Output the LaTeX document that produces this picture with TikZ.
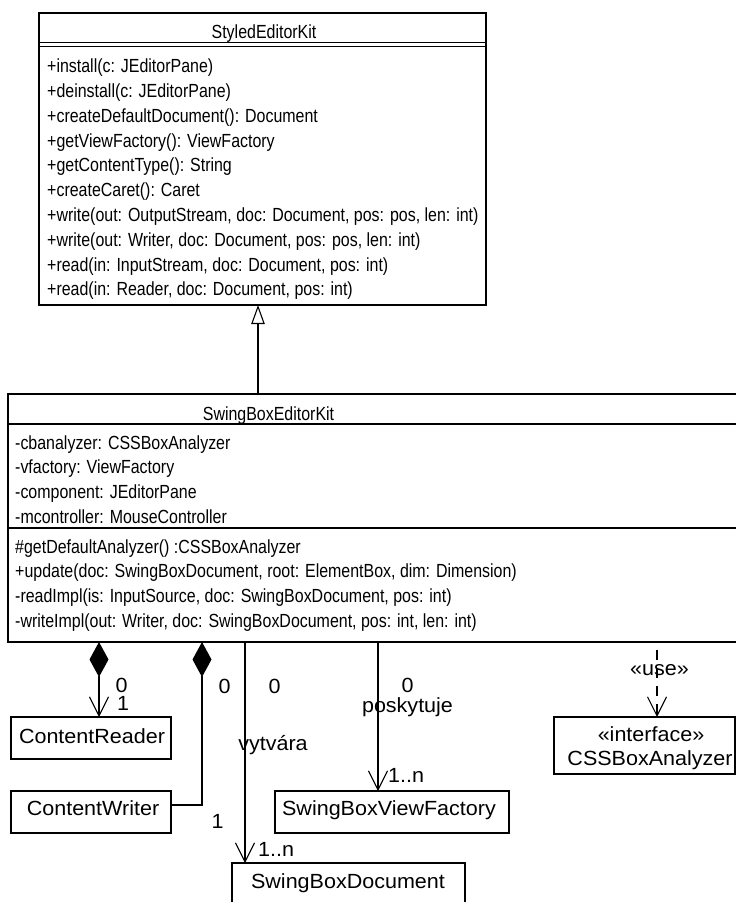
\documentclass[tikz,border=0pt]{standalone}
\usepackage{fontspec}
\setmainfont{Liberation Sans}
\newfontfamily\umlfont[FakeStretch=0.84]{Liberation Sans}
\newfontfamily\lblfont[FakeStretch=1.05]{Liberation Sans}
\usetikzlibrary{arrows.meta}
\tikzset{
  box/.style={draw, line width=1.1pt, inner sep=0pt, outer sep=0pt, anchor=north west},
  mtext/.style={font=\umlfont\fontsize{19}{22}\selectfont, inner sep=0pt, anchor=base west},
  ttext/.style={font=\umlfont\fontsize{19}{22}\selectfont, inner sep=0pt, anchor=base},
  ltext/.style={font=\lblfont\fontsize{20.5}{24}\selectfont, inner sep=0pt, anchor=base},
  lwtext/.style={font=\lblfont\fontsize{20.5}{24}\selectfont, inner sep=0pt, anchor=base west},
  conn/.style={line width=1.1pt},
  sepline/.style={line width=1.1pt},
  barb/.style={-{Straight Barb[length=19pt,width=19pt]}},
  compo/.style={{Diamond[length=35pt,width=19pt]}-{Straight Barb[length=19pt,width=19pt]}},
  compoplain/.style={{Diamond[length=35pt,width=19pt]}-},
  inherit/.style={-{Triangle[open,length=19pt,width=13.4pt]}},
  usedep/.style={dash pattern=on 10pt off 8pt, dash phase=-8pt, -{Straight Barb[length=19pt,width=19pt]}}
}
\begin{document}
\begin{tikzpicture}[x=1pt,y=-1pt]
\path[use as bounding box, clip] (0,0) rectangle (736,902);
\fill[white] (0,0) rectangle (736,902);

% StyledEditorKit
\node[box, minimum width=447pt, minimum height=292pt] (sek) at (39,13) {};
\draw[sepline] ([yshift=-29.7pt]sek.north west) -- ([yshift=-29.7pt]sek.north east);
\draw[sepline] ([yshift=-33.7pt]sek.north west) -- ([yshift=-33.7pt]sek.north east);
\node[ttext] (sekt) at (264,38.3) {StyledEditorKit};
\node[mtext] (sm1) at (47,72.7) {+install(c: JEditorPane)};
\node[mtext] (sm2) at (47,97.5) {+deinstall(c: JEditorPane)};
\node[mtext] (sm3) at (47,122.3) {+createDefaultDocument(): Document};
\node[mtext] (sm4) at (47,147.1) {+getViewFactory(): ViewFactory};
\node[mtext] (sm5) at (47,171.9) {+getContentType(): String};
\node[mtext] (sm6) at (47,196.7) {+createCaret(): Caret};
\node[mtext] (sm7) at (47,221.5) {+write(out: OutputStream, doc: Document, pos: pos, len: int)};
\node[mtext] (sm8) at (47,246.3) {+write(out: Writer, doc: Document, pos: pos, len: int)};
\node[mtext] (sm9) at (47,271.1) {+read(in: InputStream, doc: Document, pos: int)};
\node[mtext] (sm10) at (47,295.9) {+read(in: Reader, doc: Document, pos: int)};

% SwingBoxEditorKit
\node[box, minimum width=745pt, minimum height=248pt] (sbek) at (8,394) {};
\draw[sepline] ([yshift=-30pt]sbek.north west) -- ([yshift=-30pt]sbek.north east);
\draw[sepline] ([yshift=-134pt]sbek.north west) -- ([yshift=-134pt]sbek.north east);
\node[ttext] (sbekt) at (268.5,420) {SwingBoxEditorKit};
\node[mtext] (a1) at (15,449) {-cbanalyzer: CSSBoxAnalyzer};
\node[mtext] (a2) at (15,473.7) {-vfactory: ViewFactory};
\node[mtext] (a3) at (15,498.3) {-component: JEditorPane};
\node[mtext] (a4) at (15,523) {-mcontroller: MouseController};
\node[mtext] (b1) at (15,553) {\#getDefaultAnalyzer() :CSSBoxAnalyzer};
\node[mtext] (b2) at (15,577.8) {+update(doc: SwingBoxDocument, root: ElementBox, dim: Dimension)};
\node[mtext] (b3) at (15,602.6) {-readImpl(is: InputSource, doc: SwingBoxDocument, pos: int)};
\node[mtext] (b4) at (15,627.4) {-writeImpl(out: Writer, doc: SwingBoxDocument, pos: int, len: int)};

% small classes
\node[box, minimum width=160pt, minimum height=42pt] (cr) at (11,717) {};
\node[ltext] (crt) at (92,743) {ContentReader};
\node[box, minimum width=160pt, minimum height=42pt] (cw) at (11,791) {};
\node[ltext] (cwt) at (93,815) {ContentWriter};
\node[box, minimum width=234pt, minimum height=42pt] (vf) at (275,791) {};
\node[ltext] (vft) at (389,815) {SwingBoxViewFactory};
\node[box, minimum width=233pt, minimum height=42pt] (doc) at (232,863) {};
\node[ltext] (doct) at (348,888) {SwingBoxDocument};
\node[box, minimum width=181pt, minimum height=57pt] (csa) at (554,717) {};
\node[ltext] (csat1) at (651,741) {«interface»};
\node[ltext] (csat2) at (650,765) {CSSBoxAnalyzer};

% connectors
\draw[conn, inherit] ([xshift=250pt]sbek.north west) -- ([xshift=219pt]sek.south west);
\draw[conn, compo] ([xshift=91pt]sbek.south west) -- ([xshift=88pt]cr.north west);
\draw[conn, compoplain] ([xshift=194pt]sbek.south west) |- ([yshift=7pt]cw.east);
\draw[conn, barb] ([xshift=237pt]sbek.south west) -- ([xshift=13pt]doc.north west);
\draw[conn, barb] ([xshift=370pt]sbek.south west) -- ([xshift=103pt]vf.north west);
\draw[conn, usedep] ([xshift=649pt]sbek.south west) -- ([xshift=103pt]csa.north west);

% labels
\node[ltext] (l1) at (121.5,692) {0};
\node[ltext] (l2) at (123,710) {1};
\node[ltext] (l3) at (224.5,693) {0};
\node[ltext] (l4) at (217.5,828) {1};
\node[ltext] (l5) at (274.5,693) {0};
\node[ltext] (l6) at (273,750) {vytvára};
\node[lwtext] (l7) at (258,856) {1..n};
\node[ltext] (l8) at (407.5,692) {0};
\node[ltext] (l9) at (407.5,712) {poskytuje};
\node[lwtext] (l10) at (388,782) {1..n};
\node[ltext] (l11) at (659.5,675) {«use»};
\end{tikzpicture}
\end{document}
